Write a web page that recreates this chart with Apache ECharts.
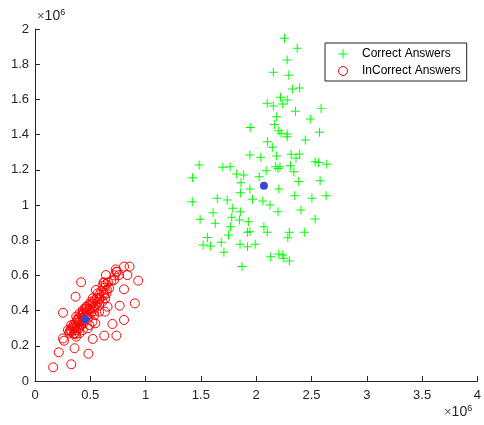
<!DOCTYPE html>
<html><head><meta charset="utf-8">
<script src="https://cdn.jsdelivr.net/npm/echarts@6/dist/echarts.min.js"></script>
<style>html,body{margin:0;padding:0;background:#fff}#c{width:484px;height:425px}</style>
</head><body><div id="c"></div>
<script>
// values in units of 1e6
const correctX = [2.256,2.37,2.28,2.155,2.295,2.327,2.393,2.10,2.155,2.22,2.24,2.28,2.355,2.587,2.489,2.185,2.167,1.946,2.205,2.226,2.28,2.28,2.572,2.444,2.101,2.146,1.943,2.042,2.185,2.316,2.393,2.36,2.533,2.563,2.638,1.484,1.699,1.764,2.176,2.197,2.215,2.31,2.34,2.09,1.425,1.824,1.887,2.027,1.863,2.384,2.578,1.943,2.205,1.857,2.349,2.632,1.422,1.648,1.738,1.967,2.06,2.125,2.504,1.61,1.788,1.857,2.197,2.405,1.493,1.63,1.779,1.848,1.929,2.533,1.767,1.75,1.922,1.943,2.07,2.10,2.30,2.286,2.435,1.559,1.52,1.586,1.684,1.708,1.854,1.922,1.991,2.131,2.205,2.24,2.25,2.30,1.872];
const correctY = [1.947,1.89,1.824,1.754,1.737,1.659,1.665,1.578,1.5625,1.612,1.574,1.597,1.532,1.549,1.489,1.502,1.458,1.441,1.422,1.407,1.403,1.388,1.413,1.369,1.36,1.328,1.284,1.271,1.278,1.288,1.290,1.265,1.246,1.242,1.231,1.227,1.214,1.218,1.218,1.208,1.218,1.223,1.189,1.195,1.155,1.176,1.17,1.161,1.127,1.133,1.138,1.091,1.091,1.07,1.053,1.053,1.019,1.038,1.028,1.032,1.023,1.0,1.038,0.956,0.981,0.962,0.962,0.972,0.919,0.896,0.93,0.915,0.905,0.920,0.877,0.83,0.845,0.848,0.877,0.845,0.845,0.814,0.845,0.816,0.773,0.767,0.788,0.731,0.777,0.763,0.777,0.706,0.722,0.716,0.697,0.682,0.65];
const incorrectX = [0.164,0.328,0.215,0.483,0.358,0.253,0.262,0.522,0.626,0.736,0.70,0.805,0.545,0.52,0.253,0.632,0.766,0.903,0.805,0.367,0.417,0.641,0.626,0.611,0.715,0.73,0.736,0.805,0.855,0.835,0.933,0.76,0.551,0.67,0.58,0.522,0.492,0.635,0.647,0.656,0.373,0.313,0.343,0.387,0.402,0.432,0.462,0.492,0.417,0.358,0.298,0.373,0.447,0.486,0.536,0.536,0.58,0.611,0.566,0.477,0.402,0.328,0.432,0.492,0.402,0.58,0.626,0.387,0.367,0.462,0.507,0.53,0.468,0.432,
  0.31,0.32,0.33,0.34,0.35,0.35,0.36,0.37,0.37,0.38,0.38,0.39,0.40,0.40,0.41,0.42,0.42,0.43,0.44,0.44,0.45,0.46,0.47,0.48,0.49,0.50,0.51,0.52,0.53,0.54,0.55,0.56,0.57,0.58,0.59,0.60,0.62,0.63,0.64,0.62,0.65,0.66,0.69,0.72,0.74];
const incorrectY = [0.078,0.095,0.163,0.155,0.186,0.242,0.229,0.239,0.258,0.258,0.324,0.347,0.328,0.337,0.388,0.394,0.428,0.441,0.521,0.479,0.561,0.602,0.559,0.54,0.574,0.634,0.621,0.65,0.65,0.602,0.57,0.602,0.517,0.527,0.464,0.47,0.438,0.47,0.498,0.422,0.252,0.28,0.309,0.347,0.384,0.403,0.422,0.403,0.318,0.271,0.29,0.366,0.347,0.375,0.375,0.413,0.432,0.451,0.498,0.299,0.271,0.318,0.29,0.318,0.337,0.394,0.489,0.299,0.265,0.366,0.451,0.394,0.394,0.375,
  0.27,0.29,0.28,0.30,0.27,0.32,0.30,0.33,0.29,0.35,0.31,0.33,0.36,0.30,0.34,0.38,0.32,0.36,0.39,0.33,0.41,0.38,0.42,0.36,0.41,0.43,0.39,0.44,0.42,0.46,0.43,0.47,0.45,0.49,0.47,0.51,0.50,0.53,0.55,0.56,0.52,0.56,0.57,0.60,0.62];
const centroidX = [2.07, 0.454];
const centroidY = [1.11, 0.351];
const xTicks = [0,0.5,1,1.5,2,2.5,3,3.5,4];
const yTicks = [0,0.2,0.4,0.6,0.8,1,1.2,1.4,1.6,1.8,2];
const SCALE = 1e6;

const zip = (xs, ys) => xs.map((x, i) => [x * SCALE, ys[i] * SCALE]);
const plus = 'path://M-0.11,-1H0.11V-0.11H1V0.11H0.11V1H-0.11V0.11H-1V-0.11H-0.11Z';
const axisCol = '#262626';
const font = 'Liberation Sans, Arial, Helvetica, sans-serif';
const fmt = v => { const t = v / SCALE; return String(Math.round(t * 10) / 10); };

const chart = echarts.init(document.getElementById('c'), null, {renderer: 'canvas'});
chart.setOption({
  animation: false,
  textStyle: {fontFamily: font},
  grid: {left: 35, right: 2, top: 29, bottom: 44, containLabel: false},
  xAxis: {
    type: 'value', min: xTicks[0] * SCALE, max: xTicks[xTicks.length - 1] * SCALE, interval: 0.5 * SCALE,
    axisLine: {show: true, onZero: false, lineStyle: {color: axisCol, width: 1}},
    axisTick: {show: true, inside: true, length: 5, lineStyle: {color: axisCol}},
    axisLabel: {formatter: fmt, color: axisCol, fontSize: 13, margin: 8, fontFamily: font, showMaxLabel: true},
    splitLine: {show: false}
  },
  yAxis: {
    type: 'value', min: yTicks[0] * SCALE, max: yTicks[yTicks.length - 1] * SCALE, interval: 0.2 * SCALE,
    axisLine: {show: true, onZero: false, lineStyle: {color: axisCol, width: 1}},
    axisTick: {show: true, inside: true, length: 5, lineStyle: {color: axisCol}},
    axisLabel: {formatter: fmt, color: axisCol, fontSize: 13, margin: 6, fontFamily: font, showMaxLabel: true},
    splitLine: {show: false}
  },
  legend: {
    orient: 'vertical', left: 325, top: 43,
    padding: [4, 6, 3, 13], itemGap: 3, itemWidth: 20, itemHeight: 9,
    borderColor: axisCol, borderWidth: 1, backgroundColor: '#fff',
    textStyle: {fontSize: 12, color: '#000', fontFamily: font, lineHeight: 14, padding: [0, 0, 0, 4]},
    data: [
      {name: 'Correct Answers', icon: plus, itemStyle: {color: '#00ff00', borderWidth: 0}},
      {name: 'InCorrect Answers', icon: 'circle', itemStyle: {color: 'rgba(0,0,0,0)', borderColor: '#ff0000', borderWidth: 1}}
    ]
  },
  series: [
    {name: 'Correct Answers', type: 'scatter', symbol: plus, symbolSize: 9,
     itemStyle: {color: '#00ff00', opacity: 1}, data: zip(correctX, correctY)},
    {name: 'InCorrect Answers', type: 'scatter', symbol: 'circle', symbolSize: 9,
     itemStyle: {color: 'rgba(0,0,0,0)', borderColor: '#ff0000', borderWidth: 1, opacity: 1}, data: zip(incorrectX, incorrectY)},
    {name: 'Centroids', type: 'scatter', symbol: 'circle', symbolSize: 8, z: 5,
     itemStyle: {color: '#3a46cc', opacity: 1}, data: zip(centroidX, centroidY)}
  ],
  graphic: [
    {type: 'text', left: 37, top: 8, style: {text: '{a|×}{b|10}{c|6}', rich: {
      a: {fontSize: 13, fill: '#555', fontFamily: font},
      b: {fontSize: 14, fill: axisCol, fontFamily: font},
      c: {fontSize: 9, fill: axisCol, fontFamily: font, verticalAlign: 'top', padding: [0,0,8,0]}}}},
    {type: 'text', left: 444, top: 404, style: {text: '{a|×}{b|10}{c|6}', rich: {
      a: {fontSize: 13, fill: '#555', fontFamily: font},
      b: {fontSize: 14, fill: axisCol, fontFamily: font},
      c: {fontSize: 9, fill: axisCol, fontFamily: font, verticalAlign: 'top', padding: [0,0,8,0]}}}}
  ]
});
</script></body></html>
